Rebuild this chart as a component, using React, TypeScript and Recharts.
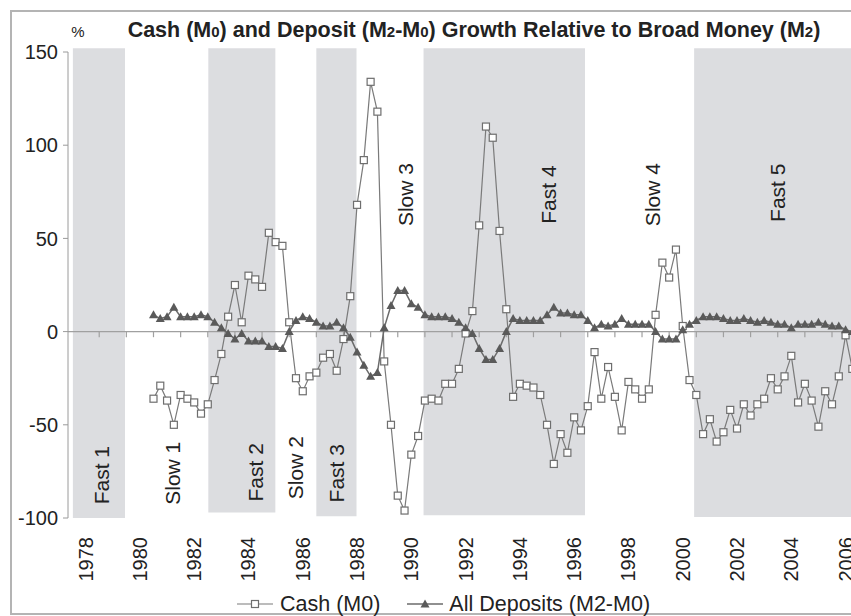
import React from 'react'
import {
  Legend,
  Line,
  LineChart,
  ReferenceArea,
  ReferenceDot,
  ReferenceLine,
  XAxis,
  YAxis,
} from 'recharts'

// quarterly observations, first one at 1980.5
const firstQuarter = 1980.5

const cash = [
  -36, -29, -37, -50, -34, -36, -38, -44, -39, -26, -12, 8, 25, 5, 30, 28, 24, 53, 48, 46,
  5, -25, -32, -24, -22, -14, -12, -21, -4, 19, 68, 92, 134, 118, -16, -50, -88, -96, -66, -56,
  -37, -36, -37, -28, -28, -20, -1, 11, 57, 110, 104, 54, 12, -35, -28, -29, -30, -34, -50, -71,
  -55, -65, -46, -53, -40, -11, -36, -19, -35, -53, -27, -31, -36, -31, 9, 37, 29, 44, 3, -26,
  -34, -55, -47, -59, -54, -42, -52, -39, -45, -39, -36, -25, -31, -24, -13, -38, -28, -37, -51, -32,
  -39, -24, -2, -20,
]

const deposits = [
  9, 7, 8, 13, 8, 8, 8, 9, 8, 5, 2, -1, -4, -1, -5, -5, -5, -8, -8, -9,
  0, 6, 8, 7, 5, 3, 3, 5, 2, -3, -11, -18, -24, -22, 2, 14, 22, 22, 15, 13,
  9, 8, 8, 8, 7, 5, 2, -1, -9, -15, -15, -9, 0, 7, 6, 6, 6, 6, 9, 13,
  10, 10, 9, 9, 6, 2, 4, 3, 4, 7, 4, 4, 4, 4, 0, -4, -4, -4, 1, 4,
  6, 8, 8, 8, 7, 6, 6, 7, 6, 5, 6, 5, 4, 4, 2, 4, 4, 4, 5, 4,
  3, 3, 1, 0,
]

const yearTicks = [
  1978, 1980, 1982, 1984, 1986, 1988, 1990, 1992, 1994, 1996, 1998, 2000, 2002, 2004, 2006,
]
const yTicks = [-100, -50, 0, 50, 100, 150]

// shaded "fast" periods
const fastStart = [1977.53, 1982.52, 1986.5, 1990.45, 2000.42]
const fastEnd = [1979.45, 1984.99, 1987.98, 1996.4, 2006.2]
const fastBottom = [-100, -97, -99, -98.5, -99.5]

const periodNames = ['Fast 1', 'Slow 1', 'Fast 2', 'Slow 2', 'Fast 3', 'Slow 3', 'Fast 4', 'Slow 4', 'Fast 5']
const periodX = [1978.6, 1981.19, 1984.25, 1985.73, 1987.24, 1989.79, 1995.07, 1998.87, 2003.48]
const periodY = [-77, -76, -75.5, -73, -76, 73.5, 73.5, 73.5, 74.5]

const X_MIN = 1977.35
const X_MAX = 2006.2

const data = cash.map((c, i) => ({
  t: firstQuarter + i * 0.25,
  cash: c,
  deposits: deposits[i],
}))

const minorTicks = yearTicks.slice(0, -1).flatMap((y) => [y + 0.5, y + 1.5])

const FONT = '"Liberation Sans", Arial, sans-serif'
const TEXT = '#222'

const YearTick = (props: any) => {
  const { x, y, payload } = props
  const ty = y + 19
  return (
    <text
      x={x}
      y={ty}
      transform={`rotate(-90 ${x} ${ty})`}
      textAnchor="end"
      dominantBaseline="central"
      fontSize={20}
      fontFamily={FONT}
      fill={TEXT}
    >
      {payload.value}
    </text>
  )
}

const SquareDot = (props: any) => {
  const { cx, cy, index } = props
  if (cx == null || cy == null) return <g key={index} />
  return (
    <rect
      key={index}
      x={cx - 3.5}
      y={cy - 3.5}
      width={7}
      height={7}
      fill="#fff"
      stroke="#6e6e6e"
      strokeWidth={1.2}
    />
  )
}

const TriangleDot = (props: any) => {
  const { cx, cy, index } = props
  if (cx == null || cy == null) return <g key={index} />
  return (
    <path
      key={index}
      d={`M${cx},${cy - 4.5} L${cx + 4.5},${cy + 3.5} L${cx - 4.5},${cy + 3.5} Z`}
      fill="#5a5a5a"
    />
  )
}

const periodLabel = (name: string) => (props: any) => {
  const { cx, cy } = props
  return (
    <text
      x={cx}
      y={cy}
      transform={`rotate(-90 ${cx} ${cy})`}
      textAnchor="middle"
      dominantBaseline="central"
      fontSize={21}
      fontFamily={FONT}
      fill={TEXT}
    >
      {name}
    </text>
  )
}

const LegendContent = () => (
  <div
    style={{
      height: 24,
      display: 'flex',
      alignItems: 'center',
      paddingLeft: 237,
      fontFamily: FONT,
      fontSize: 21.5,
      color: TEXT,
      whiteSpace: 'nowrap',
    }}
  >
    <svg width={36} height={14}>
      <line x1={0} y1={7} x2={36} y2={7} stroke="#7a7a7a" strokeWidth={1.2} />
      <rect x={14.5} y={3.5} width={7} height={7} fill="#fff" stroke="#6e6e6e" strokeWidth={1.2} />
    </svg>
    <span style={{ marginLeft: 7 }}>Cash (M0)</span>
    <svg width={36} height={14} style={{ marginLeft: 27 }}>
      <line x1={0} y1={7} x2={36} y2={7} stroke="#6b6b6b" strokeWidth={1.5} />
      <path d="M18,2.5 L22.5,10.5 L13.5,10.5 Z" fill="#5a5a5a" />
    </svg>
    <span style={{ marginLeft: 6 }}>All Deposits (M2-M0)</span>
  </div>
)

export default function App() {
  return (
    <div style={{ position: 'relative', width: 851, height: 616, background: '#fff' }}>
      <style>{'body{margin:0;overflow:hidden}'}</style>
      <div
        style={{
          position: 'absolute',
          left: 10,
          top: 10,
          width: 841,
          height: 601,
          borderLeft: '2px solid #b4b4b4',
          borderTop: '2px solid #b4b4b4',
          borderBottom: '2px solid #b4b4b4',
        }}
      />
      <LineChart
        width={851}
        height={616}
        data={data}
        margin={{ top: 52, right: 0, left: 8, bottom: 0 }}
      >
        {fastStart.map((s, i) => (
          <ReferenceArea
            key={'fast' + i}
            x1={s}
            x2={fastEnd[i]}
            y1={fastBottom[i]}
            y2={152}
            fill="#dcdde0"
            fillOpacity={1}
            stroke="none"
            ifOverflow="visible"
          />
        ))}
        <XAxis
          dataKey="t"
          type="number"
          domain={[X_MIN, X_MAX]}
          ticks={yearTicks}
          allowDataOverflow
          axisLine={false}
          tickLine={false}
          tickSize={0}
          tickMargin={0}
          height={74}
          tick={<YearTick />}
          interval={0}
        />
        <YAxis
          domain={[-100, 150]}
          ticks={yTicks}
          width={60}
          axisLine={{ stroke: '#9a9a9a' }}
          tickLine={{ stroke: '#9a9a9a' }}
          tickSize={5}
          tickMargin={5}
          tick={{ fontSize: 20, fontFamily: FONT, fill: TEXT }}
          interval={0}
        />
        <ReferenceLine y={0} stroke="#a0a0a0" strokeWidth={1.2} />
        {minorTicks.map((t) => (
          <ReferenceLine
            key={'mt' + t}
            segment={[
              { x: t, y: 0 },
              { x: t, y: -3 },
            ]}
            stroke="#a0a0a0"
            strokeWidth={1.2}
          />
        ))}
        {periodNames.map((name, i) => (
          <ReferenceDot
            key={name}
            x={periodX[i]}
            y={periodY[i]}
            r={1}
            shape={periodLabel(name)}
          />
        ))}
        <Line
          dataKey="cash"
          stroke="#7a7a7a"
          strokeWidth={1.2}
          dot={<SquareDot />}
          activeDot={false}
          isAnimationActive={false}
        />
        <Line
          dataKey="deposits"
          stroke="#6b6b6b"
          strokeWidth={1.5}
          dot={<TriangleDot />}
          activeDot={false}
          isAnimationActive={false}
        />
        <Legend
          verticalAlign="bottom"
          content={<LegendContent />}
          wrapperStyle={{ left: 0, width: 851 }}
        />
      </LineChart>
      <svg
        width={851}
        height={50}
        style={{ position: 'absolute', left: 0, top: 0, pointerEvents: 'none' }}
      >
        <text x={78} y={37} textAnchor="middle" fontSize={15} fontFamily={FONT} fill={TEXT}>
          %
        </text>
        <text
          x={474}
          y={37}
          textAnchor="middle"
          fontSize={21.5}
          fontWeight="bold"
          fontFamily={FONT}
          fill={TEXT}
        >
          Cash (M<tspan fontSize={15}>0</tspan>) and Deposit (M<tspan fontSize={15}>2</tspan>-M
          <tspan fontSize={15}>0</tspan>) Growth Relative to Broad Money (M<tspan fontSize={15}>2</tspan>)
        </text>
      </svg>
    </div>
  )
}
